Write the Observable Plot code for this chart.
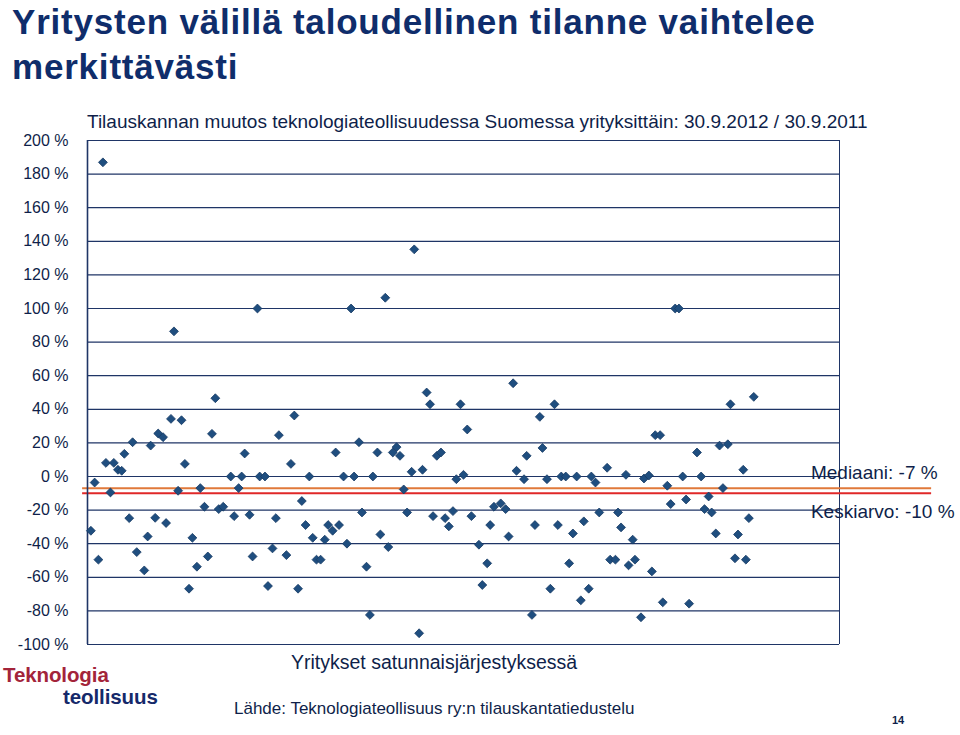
<!DOCTYPE html>
<html>
<head>
<meta charset="utf-8">
<script src="https://cdn.jsdelivr.net/npm/d3@7"></script>
<script src="https://cdn.jsdelivr.net/npm/@observablehq/plot@0.6"></script>
<style>
  html, body { margin: 0; padding: 0; background: #fff; }
  #wrap { position: relative; width: 960px; height: 735px; overflow: hidden; font-family: Arial, "Liberation Sans", sans-serif; }
  #wrap svg { position: absolute; left: 0; top: 0; }
  .abs { position: absolute; white-space: nowrap; }
  #title { left: 12px; top: -1px; font-size: 35px; font-weight: bold; color: #0F2D6B; line-height: 45px; letter-spacing: 0.8px; }
  #subtitle { left: 87px; top: 111px; font-size: 19px; color: #0F1F4A; }
  #xlabel { left: 291px; top: 651px; font-size: 19.5px; color: #0F1F4A; }
  #source { left: 234px; top: 699px; font-size: 17px; color: #0F1F4A; }
  #page { left: 892px; top: 714px; font-size: 11px; font-weight: bold; color: #0F1F4A; }
  #logo1 { left: 3px; top: 666px; font-size: 20.5px; line-height: 17px; font-weight: bold; color: #A3243A; letter-spacing: -0.1px; }
  #logo2 { left: 63px; top: 688px; font-size: 20.5px; line-height: 17px; font-weight: bold; color: #15296A; letter-spacing: -0.1px; }
</style>
</head>
<body>
<div id="wrap">
  <div id="title" class="abs">Yritysten välillä taloudellinen tilanne vaihtelee<br>merkittävästi</div>
  <div id="subtitle" class="abs">Tilauskannan muutos teknologiateollisuudessa Suomessa yrityksittäin: 30.9.2012 / 30.9.2011</div>
  <div id="xlabel" class="abs">Yritykset satunnaisjärjestyksessä</div>
  <div id="source" class="abs">Lähde: Teknologiateollisuus ry:n tilauskantatiedustelu</div>
  <div id="page" class="abs">14</div>
  <div id="logo1" class="abs">Teknologia</div>
  <div id="logo2" class="abs">teollisuus</div>
</div>
<script>
// Company position (random order) and change in order backlog, %
const companyPos = [
  0.9, 1.9, 2.9, 4.1, 4.9, 6.1, 7.0, 8.1, 9.1, 9.8,
  11.1, 12.0, 13.1, 15.1, 16.0, 16.8, 18.0, 18.8, 20.1, 20.9,
  22.2, 23.0, 24.1, 25.0, 25.9, 27.0, 27.9, 29.1, 30.0, 31.1,
  32.0, 33.1, 34.0, 34.9, 36.1, 38.1, 39.0, 40.2, 41.0, 41.8,
  43.1, 43.9, 45.2, 45.8, 47.2, 48.0, 49.2, 50.1, 50.9, 52.9,
  54.1, 55.0, 56.0, 57.0, 58.0, 59.0, 59.9, 60.9, 62.0, 63.1,
  64.0, 65.2, 66.0, 66.9, 68.1, 69.0, 70.1, 70.9, 72.2, 73.0,
  74.2, 75.1, 75.9, 77.1, 77.9, 79.2, 80.0, 81.2, 82.2, 83.1,
  84.1, 85.0, 86.2, 86.9, 88.2, 89.1, 90.2, 91.1, 91.9, 92.9,
  94.0, 95.1, 96.1, 97.2, 98.1, 99.2, 100.0, 101.0, 102.1, 104.1,
  105.0, 106.3, 107.1, 108.1, 109.9, 111.2, 112.0, 113.2, 114.1, 116.1,
  116.8, 118.2, 119.0, 120.3, 121.0, 122.2, 123.1, 124.2, 125.1, 126.0,
  127.2, 128.1, 129.1, 130.1, 131.2, 132.0, 133.3, 134.0, 135.1, 136.1,
  138.2, 139.0, 140.4, 141.1, 141.9, 143.2, 143.9, 145.0, 145.6, 147.2,
  148.0, 149.3, 150.1, 151.0, 152.3, 153.0, 154.2, 155.1, 156.3, 157.3,
  158.3, 159.2, 160.0, 162.1, 163.2, 164.1, 165.2, 166.0, 167.1, 168.1,
  169.0, 170.3, 171.0, 172.2, 173.0, 174.4, 175.1, 175.9, 177.2
];
const changePct = [
  -32.3, -3.6, -49.5, 187, 8.1, -9.5, 8.1, 4, 3.4, 13.5,
  -24.8, 20.4, -45, -55.9, -35.7, 18.4, -24.6, 25.6, 23.4, -27.7,
  34.3, 86.4, -8.5, 33.5, 7.5, -66.8, -36.5, -53.7, -6.9, -18,
  -47.6, 25.4, 46.6, -19.4, -18, 0, -23.6, -6.9, 0, 13.7,
  -22.8, -47.6, 100, 0, 0, -65.2, -42.8, -24.8, 24.6, -46.8,
  7.5, 36.3, -66.8, -14.6, -28.9, 0, -36.5, -49.5, -49.5, -37.6,
  -28.9, -32.3, 14.3, -28.9, 0, -40, 100, 0, 20.4, -21.4,
  -53.7, -82.4, 0, 14.3, -34.5, 106.4, -42, 14.3, 17.5, 12.3,
  -7.7, -21.4, 2.8, 135.2, -93.3, 4, 50, 43, -23.6, 12.3,
  14.3, -24.8, -29.7, -20.6, -1.6, 43, 1, 28, -23.6, -40.6,
  -64.6, -51.7, -28.9, -18, -16, -19.4, -35.7, 55.5, 3.4, -1.6,
  12.3, -82.4, -28.9, 35.5, 17, -1.6, -66.8, 43, -28.9, 0,
  0, -51.7, -33.9, 0, -73.7, -26.7, -66.8, 0, -3.6, -21.4,
  5.2, -49.5, -49.5, -21.4, -30.3, 1, -52.9, -37.6, -49.5, -83.8,
  -1.2, 0.6, -56.5, 24.6, 24.6, -74.9, -5.5, -16.4, 100, 100,
  0, -13.7, -75.7, 14.3, 0, -19.4, -11.9, -21.4, -33.9, 18.4,
  -6.9, 19.2, 43, -48.7, -34.5, 4, -49.5, -24.8, 47.4
];
const yTicks = [-100, -80, -60, -40, -20, 0, 20, 40, 60, 80, 100, 120, 140, 160, 180, 200];
const refLabels = ["Mediaani", "Keskiarvo"];
const refValues = [-7, -10];

const points = companyPos.map((x, i) => ({x, y: changePct[i]}));
const refs = refLabels.map((name, i) => ({name, value: refValues[i]}));
const fmtRef = d => `${d.name}: ${d.value} %`;

const chart = Plot.plot({
  width: 960,
  height: 735,
  marginLeft: 87,
  marginRight: 121,
  marginTop: 140,
  marginBottom: 91,
  style: {fontFamily: 'Arial, "Liberation Sans", sans-serif', background: "transparent", overflow: "visible"},
  x: {domain: [0, 200], axis: null},
  y: {domain: [-100, 200], axis: null},
  color: {domain: refLabels, range: ["#E0793A", "#E02828"]},
  marks: [
    Plot.ruleY(yTicks, {stroke: "#1F3566", strokeWidth: 1.2}),
    Plot.ruleX([200], {stroke: "#1F3566", strokeWidth: 1}),
    Plot.ruleY(refs, {y: "value", x1: -1.3, x2: 224.5, stroke: "name", strokeWidth: 2}),
    Plot.ruleX([0], {stroke: "#1F3566", strokeWidth: 1.6}),
    Plot.dot(points, {x: "x", y: "y", symbol: "diamond2", r: 4, fill: "#1F4E7F", stroke: "#173A63", strokeWidth: 0.8}),
    Plot.text(refs.filter(d => d.name === "Mediaani"), {
      x: 192.4, y: "value", text: fmtRef, dy: -15.5,
      textAnchor: "start", fontSize: 19, fill: "#0F1F4A"
    }),
    Plot.text(refs.filter(d => d.name === "Keskiarvo"), {
      x: 192.4, y: "value", text: fmtRef, dy: 19,
      textAnchor: "start", fontSize: 19, fill: "#0F1F4A"
    }),
    Plot.axisY({ticks: yTicks, tickFormat: d => `${d} %`, tickSize: 0, tickPadding: 19, fontSize: 16, fill: "#0F1F4A", label: null})
  ]
});
document.getElementById("wrap").prepend(chart);
</script>
</body>
</html>
